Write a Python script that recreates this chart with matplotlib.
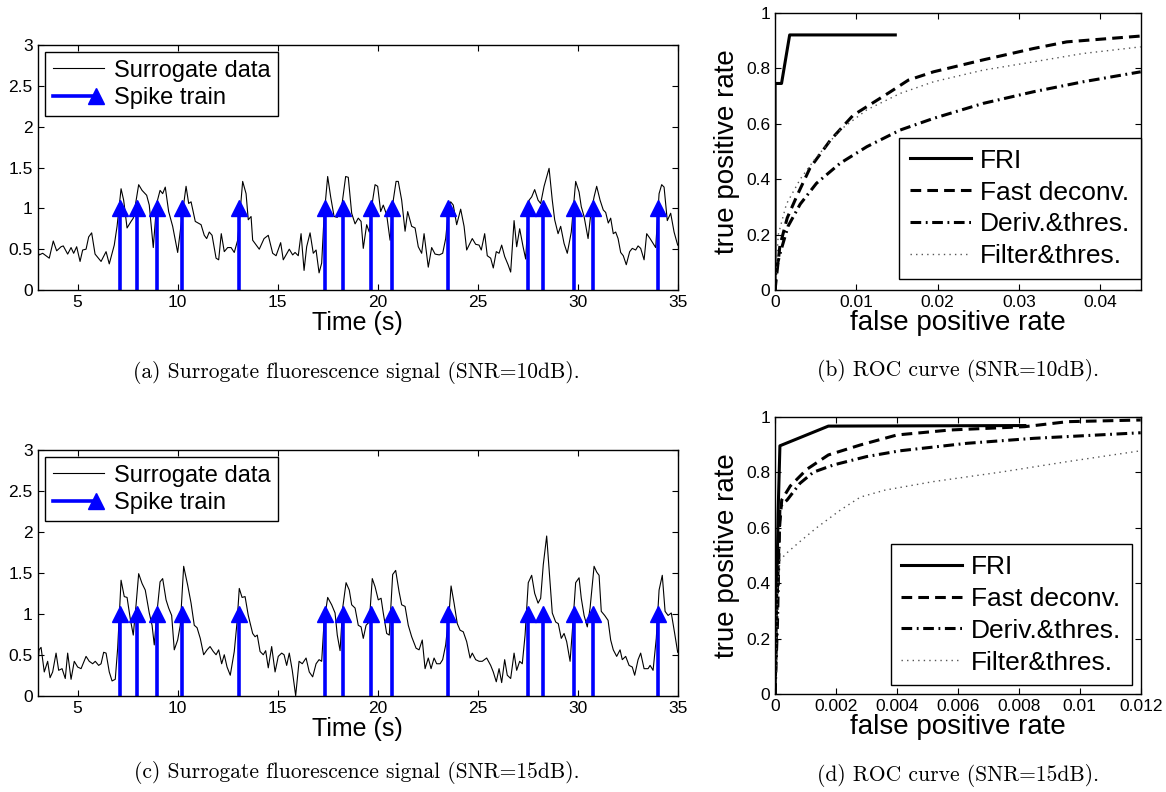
import matplotlib
matplotlib.use('Agg')
import matplotlib.pyplot as plt
from matplotlib.lines import Line2D
from matplotlib.legend_handler import HandlerBase

plt.rcParams['font.family'] = ['Liberation Sans', 'DejaVu Sans']

# spike times (same ground truth in both surrogate panels)
spike_times = [7.12, 7.95, 8.97, 10.23, 13.07, 17.37, 18.28, 19.67, 20.73,
               23.50, 27.53, 28.28, 29.82, 30.78, 34.00]
spike_amp = [1.0] * len(spike_times)

# surrogate fluorescence, SNR = 10 dB
surr_t_10db = [
    3.00, 3.08, 3.25, 3.58, 3.78, 3.95, 4.17, 4.28, 4.50, 4.67,
    4.80, 4.95, 5.12, 5.25, 5.42, 5.55, 5.70, 5.87, 6.17, 6.42,
    6.58, 6.83, 6.97, 7.17, 7.30, 7.47, 7.67, 7.78, 8.05, 8.22,
    8.45, 8.58, 8.78, 8.95, 9.12, 9.25, 9.38, 9.55, 9.75, 10.00,
    10.25, 10.42, 10.55, 10.67, 10.88, 11.17, 11.33, 11.45, 11.58, 11.72,
    11.92, 12.05, 12.18, 12.33, 12.50, 12.67, 12.83, 13.00, 13.25, 13.42,
    13.53, 13.67,
    13.75, 14.08, 14.32, 14.53, 14.75, 14.92, 15.15, 15.28, 15.58, 15.75,
    15.87, 16.03, 16.17, 16.32, 16.45, 16.62, 16.78, 16.92, 17.07, 17.20,
    17.32, 17.50, 17.65, 17.82, 17.98, 18.20, 18.40, 18.53, 18.70, 18.87,
    19.03, 19.17, 19.28, 19.45, 19.58, 19.75, 19.87, 20.00, 20.15, 20.28,
    20.45, 20.62, 20.78, 20.92, 21.03, 21.20, 21.37, 21.50, 21.70, 21.87,
    22.03, 22.20, 22.32, 22.53, 22.70, 22.87, 23.08, 23.25, 23.40, 23.55,
    23.65, 23.78, 23.95, 24.15, 24.32, 24.45,
    24.73, 24.90, 25.07, 25.18, 25.35, 25.48, 25.65, 25.78, 25.93, 26.07,
    26.20, 26.35, 26.52, 26.65, 26.82, 26.95, 27.10, 27.27, 27.40, 27.57,
    27.70, 27.85, 28.02, 28.15, 28.32, 28.57, 28.73, 28.85, 29.02, 29.15,
    29.32, 29.48, 29.68, 29.90, 30.07, 30.18, 30.32, 30.52, 30.65, 30.82,
    30.95, 31.12, 31.28, 31.40, 31.53, 31.65, 31.78, 31.90, 32.02, 32.15,
    32.28, 32.43, 32.60, 32.73, 32.90, 33.02, 33.15, 33.32, 33.45, 33.62,
    33.90, 34.07, 34.20, 34.32, 34.48, 34.65, 34.82, 35.00]
surr_v_10db = [
    0.47, 0.43, 0.45, 0.39, 0.60, 0.48, 0.53, 0.54, 0.44, 0.52,
    0.45, 0.53, 0.35, 0.49, 0.50, 0.65, 0.70, 0.44, 0.35, 0.47,
    0.32, 0.55, 0.78, 1.24, 1.10, 0.76, 0.84, 0.88, 1.29, 1.22,
    1.16, 1.04, 0.52, 1.06, 1.22, 1.18, 1.26, 0.96, 0.78, 0.46,
    0.96, 1.27, 1.06, 1.08, 0.84, 0.80, 0.67, 0.63, 0.71, 0.67,
    0.39, 0.37, 0.69, 0.47, 0.52, 0.52, 0.46, 0.61, 1.33, 1.18,
    0.86, 0.90,
    0.61, 0.50, 0.63, 0.67, 0.45, 0.42, 0.58, 0.37, 0.50, 0.43,
    0.46, 0.42, 0.69, 0.24, 0.53, 0.70, 0.45, 0.49, 0.21, 0.33,
    0.90, 1.39, 1.14, 0.90, 0.89, 1.02, 1.39, 1.38, 0.94, 0.81,
    0.88, 0.84, 0.51, 0.80, 0.71, 1.10, 1.29, 1.27, 0.96, 1.04,
    0.92, 0.61, 1.10, 1.33, 1.33, 1.10, 0.72, 0.96, 0.78, 0.76,
    0.53, 0.45, 0.69, 0.28, 0.52, 0.44, 0.43, 0.45, 0.63, 1.00,
    1.08, 1.04, 0.80, 0.99, 0.78, 0.49,
    0.63, 0.56, 0.55, 0.49, 0.69, 0.42, 0.39, 0.27, 0.47, 0.45,
    0.55, 0.41, 0.31, 0.22, 0.85, 0.53, 0.75, 0.53, 0.38, 1.10,
    1.14, 1.23, 1.10, 1.06, 1.27, 1.49, 1.10, 0.86, 0.69, 0.78,
    0.57, 0.45, 0.71, 1.33, 1.20, 1.02, 0.90, 0.63, 0.92, 1.14,
    1.27, 1.10, 0.98, 0.95, 0.82, 0.88, 0.69, 0.71, 0.63, 0.46,
    0.42, 0.31, 0.47, 0.51, 0.49, 0.54, 0.51, 0.37, 0.69, 0.63,
    0.52, 1.18, 1.29, 1.26, 0.85, 0.94, 0.71, 0.55]

# surrogate fluorescence, SNR = 15 dB
surr_t_15db = [
    3.00, 3.07, 3.17, 3.33, 3.50, 3.62, 3.75, 3.92, 4.05, 4.22,
    4.38, 4.50, 4.67, 4.83, 5.00, 5.17, 5.42, 5.58, 5.75, 5.88,
    6.05, 6.17, 6.30, 6.42, 6.58, 6.72, 6.88, 7.00, 7.17, 7.33,
    7.47, 7.63, 7.78, 7.92, 8.05, 8.22, 8.38, 8.58, 8.72, 8.83,
    8.97, 9.12, 9.25, 9.42, 9.55, 9.70, 9.83, 10.00, 10.13, 10.30,
    10.50, 10.67, 10.83, 10.97, 11.13, 11.30, 11.47, 11.62, 11.78, 11.92,
    12.05, 12.20, 12.33, 12.47, 12.63, 12.83, 12.97, 13.08, 13.22, 13.37,
    13.53,
    13.75, 13.87, 13.98, 14.12, 14.28, 14.40, 14.53, 14.70, 14.87, 15.03,
    15.20, 15.32, 15.45, 15.58, 15.73, 15.90, 16.07, 16.23, 16.42, 16.58,
    16.75, 16.92, 17.07, 17.20, 17.32, 17.50, 17.70, 17.87, 17.98, 18.12,
    18.25, 18.42, 18.58, 18.70, 18.87, 19.03, 19.17, 19.28, 19.42, 19.58,
    19.73, 19.87, 20.03, 20.17, 20.28, 20.45, 20.58, 20.75, 20.90, 21.07,
    21.20, 21.37, 21.53, 21.70, 21.92, 22.07, 22.23, 22.37, 22.53, 22.67,
    22.82, 22.95, 23.12, 23.25, 23.40, 23.57, 23.67, 23.82, 23.98, 24.12,
    24.28, 24.45, 24.62,
    24.73, 24.90, 25.07, 25.23, 25.45, 25.65, 25.78, 25.93, 26.07, 26.20,
    26.35, 26.48, 26.65, 26.82, 26.95, 27.10, 27.23, 27.37, 27.53, 27.70,
    27.85, 28.02, 28.15, 28.28, 28.45, 28.62, 28.73, 28.90, 29.03, 29.18,
    29.32, 29.45, 29.62, 29.73, 29.90, 30.07, 30.18, 30.32, 30.48, 30.62,
    30.82, 30.95, 31.07, 31.18, 31.35, 31.52, 31.65, 31.78, 31.95, 32.12,
    32.23, 32.40, 32.57, 32.73, 32.85, 33.02, 33.15, 33.32, 33.52, 33.62,
    33.77, 33.93, 34.07, 34.23, 34.37, 34.52, 34.68, 34.85, 35.00]
surr_v_15db = [
    0.33, 0.56, 0.59, 0.29, 0.42, 0.22, 0.29, 0.52, 0.31, 0.33,
    0.21, 0.52, 0.20, 0.42, 0.35, 0.33, 0.48, 0.42, 0.39, 0.42,
    0.37, 0.39, 0.53, 0.52, 0.29, 0.18, 0.20, 0.58, 1.41, 1.21,
    1.20, 0.94, 0.74, 1.11, 1.49, 1.37, 1.29, 1.01, 0.86, 0.62,
    1.03, 1.39, 1.43, 1.17, 1.07, 0.98, 0.56, 0.68, 0.86, 1.58,
    1.35, 1.13, 0.86, 0.83, 0.70, 0.50, 0.56, 0.60, 0.54, 0.50,
    0.56, 0.39, 0.50, 0.35, 0.25, 0.54, 0.90, 1.31, 1.20, 1.21,
    0.98,
    0.76, 0.72, 0.74, 0.54, 0.50, 0.55, 0.34, 0.60, 0.29, 0.48,
    0.52, 0.50, 0.37, 0.52, 0.31, 0.00, 0.42, 0.39, 0.46, 0.29,
    0.23, 0.39, 0.44, 0.42, 0.90, 1.20, 1.11, 1.01, 0.74, 0.55,
    1.07, 1.38, 1.29, 1.11, 1.07, 0.86, 0.84, 0.70, 0.86, 0.90,
    1.43, 1.33, 1.17, 1.19, 1.01, 0.76, 0.74, 1.48, 1.53, 1.27,
    1.11, 1.09, 0.86, 0.72, 0.58, 0.56, 0.68, 0.33, 0.46, 0.33,
    0.46, 0.39, 0.39, 0.44, 0.62, 1.01, 1.34, 1.13, 0.88, 0.80,
    0.78, 0.66, 0.46,
    0.52, 0.44, 0.42, 0.42, 0.46, 0.37, 0.29, 0.17, 0.33, 0.16,
    0.44, 0.25, 0.21, 0.52, 0.31, 0.42, 0.39, 0.74, 1.38, 1.47,
    1.25, 1.13, 1.19, 1.60, 1.95, 1.39, 1.01, 0.90, 0.88, 0.70,
    0.76, 0.66, 0.42, 0.78, 1.38, 1.44, 1.19, 0.98, 0.84, 1.07,
    1.58, 1.51, 1.47, 1.03, 0.98, 0.92, 0.68, 0.56, 0.48, 0.56,
    0.44, 0.48, 0.37, 0.35, 0.25, 0.44, 0.52, 0.33, 0.33, 0.37,
    0.31, 0.70, 1.29, 1.47, 1.03, 0.98, 1.01, 0.76, 0.53]

# ROC curves, SNR = 10 dB
fri_fpr_10 = [0, 0, 0.0008, 0.0018, 0.0148]
fri_tpr_10 = [0, 0.745, 0.745, 0.92, 0.92]
fast_fpr_10 = [0, 0.0003, 0.0006, 0.0015, 0.0027, 0.0043, 0.0068, 0.0096,
               0.0142, 0.0164, 0.0195, 0.0256, 0.0318, 0.0359, 0.045]
fast_tpr_10 = [0, 0.08, 0.16, 0.26, 0.34, 0.44, 0.54, 0.63,
               0.715, 0.757, 0.787, 0.83, 0.871, 0.895, 0.916]
deriv_fpr_10 = [0, 0.0001, 0.0006, 0.0016, 0.0031, 0.0051, 0.008, 0.0113,
                0.0154, 0.0195, 0.0256, 0.0318, 0.0379, 0.045]
deriv_tpr_10 = [0, 0.07, 0.13, 0.23, 0.31, 0.385, 0.457, 0.517,
                0.577, 0.619, 0.673, 0.715, 0.751, 0.787]
filt_fpr_10 = [0, 0.0001, 0.0004, 0.0014, 0.0031, 0.0051, 0.008, 0.0113,
               0.0154, 0.0195, 0.0256, 0.0318, 0.0379, 0.045]
filt_tpr_10 = [0, 0.06, 0.2, 0.31, 0.40, 0.48, 0.577, 0.65,
               0.709, 0.751, 0.793, 0.823, 0.853, 0.877]

# ROC curves, SNR = 15 dB
fri_fpr_15 = [0, 0.0001, 0.00016, 0.00175, 0.0082]
fri_tpr_15 = [0, 0.65, 0.895, 0.966, 0.968]
fast_fpr_15 = [0, 0.00008, 0.00014, 0.00022, 0.0005, 0.00104, 0.00175,
               0.0028, 0.004, 0.00575, 0.0082, 0.0096, 0.012]
fast_tpr_15 = [0, 0.375, 0.59, 0.70, 0.75, 0.81, 0.862,
               0.898, 0.934, 0.952, 0.964, 0.982, 0.988]
deriv_fpr_15 = [0, 0.00008, 0.00016, 0.0004, 0.00082, 0.00126, 0.00192,
                0.003, 0.0041, 0.0063, 0.0085, 0.012]
deriv_tpr_15 = [0, 0.255, 0.675, 0.70, 0.76, 0.80, 0.826,
                0.856, 0.877, 0.904, 0.922, 0.942]
filt_fpr_15 = [0, 0.00003, 0.00008, 0.00016, 0.0004, 0.00082, 0.00137,
               0.00214, 0.0028, 0.0036, 0.0052, 0.0074, 0.0096, 0.012]
filt_tpr_15 = [0, 0.075, 0.375, 0.483, 0.51, 0.55, 0.60,
               0.663, 0.71, 0.735, 0.766, 0.80, 0.838, 0.877]

roc_labels = ['FRI', 'Fast deconv.', 'Deriv.&thres.', 'Filter&thres.']
captions = ['(a) Surrogate fluorescence signal (SNR=10dB).',
            '(b) ROC curve (SNR=10dB).',
            '(c) Surrogate fluorescence signal (SNR=15dB).',
            '(d) ROC curve (SNR=15dB).']


class SpikeHandler(HandlerBase):
    # legend entry: blue line with the triangle at its right end
    def create_artists(self, legend, orig_handle, xdescent, ydescent,
                       width, height, fontsize, trans):
        y = (height - ydescent) / 2.0
        line = Line2D([-xdescent, width - xdescent - 6], [y, y], color='blue', lw=2.6)
        tip = Line2D([width - xdescent - 6], [y], marker='^', color='blue',
                     markersize=11, linestyle='none')
        line.set_transform(trans)
        tip.set_transform(trans)
        return [line, tip]


def style_axes(ax):
    ax.tick_params(direction='in', top=True, right=True, length=4,
                   width=0.8, labelsize=12.5)
    for s in ax.spines.values():
        s.set_linewidth(1.0)


def signal_panel(rect, t, v):
    ax = fig.add_axes(rect)
    ax.plot(t, v, color='black', lw=0.8)
    stems = ax.vlines(spike_times, 0, spike_amp, color='blue', lw=2.6)
    ax.plot(spike_times, spike_amp, linestyle='none', marker='^',
            color='blue', markersize=11, clip_on=False)
    ax.set_xlim(3, 35)
    ax.set_ylim(0, 3)
    ax.set_xticks([5, 10, 15, 20, 25, 30, 35])
    ax.set_yticks([0, 0.5, 1, 1.5, 2, 2.5, 3])
    ax.set_yticklabels(['0', '0.5', '1', '1.5', '2', '2.5', '3'])
    ax.set_xlabel('Time (s)', fontsize=18, labelpad=1)
    style_axes(ax)
    sig_handle = Line2D([], [], color='black', lw=0.8)
    ax.legend([sig_handle, stems], ['Surrogate data', 'Spike train'],
              handler_map={type(stems): SpikeHandler()},
              loc='upper left', bbox_to_anchor=(0.0114, 0.971),
              borderaxespad=0, fontsize=17, fancybox=False,
              edgecolor='black', framealpha=1, handlelength=2.2,
              handletextpad=0.4, borderpad=0.32, labelspacing=0.22)
    return ax


def roc_panel(rect, curves, xmax, xticks, xticklabels, anchor):
    ax = fig.add_axes(rect)
    styles = [dict(color='black', lw=2.2, linestyle='-'),
              dict(color='black', lw=2.2, dashes=(3.5, 2.0)),
              dict(color='black', lw=2.2, dashes=(3.5, 1.5, 0.6, 1.5)),
              dict(color='#555555', lw=1.0, dashes=(1.0, 3.0))]
    for (x, y), st, lab in zip(curves, styles, roc_labels):
        ax.plot(x, y, label=lab, **st)
    ax.set_xlim(0, xmax)
    ax.set_ylim(0, 1)
    ax.set_xticks(xticks)
    ax.set_xticklabels(xticklabels)
    ax.set_yticks([0, 0.2, 0.4, 0.6, 0.8, 1])
    ax.set_yticklabels(['0', '0.2', '0.4', '0.6', '0.8', '1'])
    ax.set_xlabel('false positive rate', fontsize=20, labelpad=0)
    ax.set_ylabel('true positive rate', fontsize=20, labelpad=4)
    style_axes(ax)
    ax.legend(loc='lower right', bbox_to_anchor=anchor, borderaxespad=0,
              fontsize=19, fancybox=False, edgecolor='black', framealpha=1,
              handlelength=2.3, handletextpad=0.35, borderpad=0.4,
              labelspacing=0.3)
    return ax


fig = plt.figure(figsize=(11.66, 7.92), dpi=100)

signal_panel([0.0323, 0.6338, 0.5489, 0.3094], surr_t_10db, surr_v_10db)
signal_panel([0.0323, 0.1216, 0.5489, 0.3102], surr_t_15db, surr_v_15db)

roc_panel([0.6647, 0.6338, 0.3136, 0.3501],
          [(fri_fpr_10, fri_tpr_10), (fast_fpr_10, fast_tpr_10),
           (deriv_fpr_10, deriv_tpr_10), (filt_fpr_10, filt_tpr_10)],
          0.045, [0, 0.01, 0.02, 0.03, 0.04],
          ['0', '0.01', '0.02', '0.03', '0.04'], (1.0, 0.04))
roc_panel([0.6647, 0.1237, 0.3136, 0.3502],
          [(fri_fpr_15, fri_tpr_15), (fast_fpr_15, fast_tpr_15),
           (deriv_fpr_15, deriv_tpr_15), (filt_fpr_15, filt_tpr_15)],
          0.012, [0, 0.002, 0.004, 0.006, 0.008, 0.01, 0.012],
          ['0', '0.002', '0.004', '0.006', '0.008', '0.01', '0.012'],
          (0.976, 0.032))

# sub-figure captions in a Computer Modern face
cap_pos = [(0.306, 0.530), (0.822, 0.532), (0.306, 0.024), (0.822, 0.021)]
for (cx, cy), txt in zip(cap_pos, captions):
    fig.text(cx, cy, txt, ha='center', va='center', fontsize=15.5,
             family='cmr10')

fig.savefig('out.png', dpi=100)
